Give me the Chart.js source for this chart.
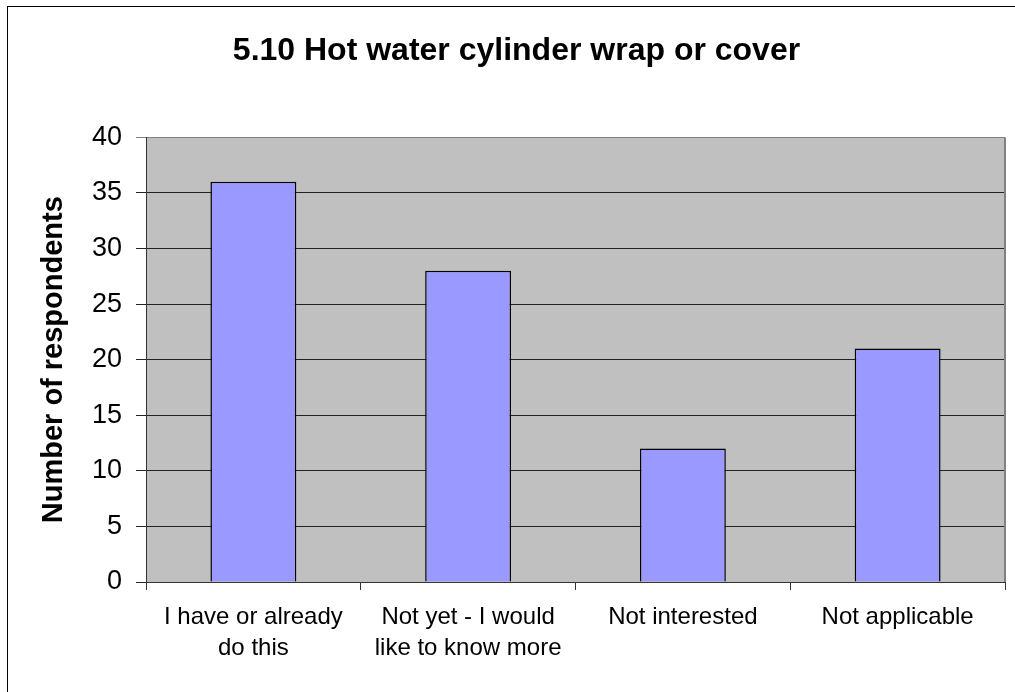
<!DOCTYPE html>
<html>
<head>
<meta charset="utf-8">
<script src="https://cdn.jsdelivr.net/npm/chart.js@4"></script>
<style>
  html, body { margin: 0; padding: 0; background: #fff; overflow: hidden; }
  #wrap { position: relative; width: 1015px; height: 692px; }
  #frame {
    position: absolute; left: 7px; top: 6px; width: 1200px; height: 900px;
    border-left: 1.5px solid #000; border-top: 1.5px solid #000;
  }
  canvas { position: absolute; left: 0; top: 0; }
</style>
</head>
<body>
<div id="wrap">
  <div id="frame"></div>
  <canvas id="chart" width="1015" height="692"></canvas>
</div>
<script>
const TITLE = "5.10 Hot water cylinder wrap or cover"
const Y_TITLE = "Number of respondents"
const CATEGORIES = [
  ["I have or already", "do this"],
  ["Not yet - I would", "like to know more"],
  "Not interested",
  "Not applicable",
]
const RESPONDENTS = [36, 28, 12, 21]
const Y_MIN = 0
const Y_MAX = 40
const Y_STEP = 5

const FONT = "Arial, 'Liberation Sans', sans-serif"

// grey plot background + right edge, drawn like the old Excel charts
const plotArea = {
  id: "plotArea",
  beforeDraw(chart) {
    const { ctx, chartArea: a } = chart
    ctx.save()
    ctx.fillStyle = "#c0c0c0"
    ctx.fillRect(a.left, a.top, a.right - a.left, a.bottom - a.top)
    ctx.restore()
  },
  afterDraw(chart) {
    const { ctx, chartArea: a } = chart
    ctx.save()
    ctx.strokeStyle = "#808080"
    ctx.lineWidth = 2
    ctx.beginPath()
    ctx.moveTo(a.right, a.top)
    ctx.lineTo(a.right, a.bottom)
    ctx.stroke()
    ctx.restore()
  },
}

new Chart(document.getElementById("chart"), {
  type: "bar",
  data: {
    labels: CATEGORIES,
    datasets: [{
      data: RESPONDENTS,
      backgroundColor: "#9999ff",
      borderColor: "#000",
      borderWidth: 1.5,
      categoryPercentage: 0.4,
      barPercentage: 1,
    }],
  },
  options: {
    responsive: false,
    animation: false,
    layout: { padding: { left: 28, right: 10, top: 0, bottom: 0 } },
    plugins: {
      legend: { display: false },
      tooltip: { enabled: false },
      title: {
        display: true,
        text: TITLE,
        color: "#000",
        font: { family: FONT, size: 32, weight: "bold", lineHeight: 1.2 },
        padding: { top: 32, bottom: 67 },
      },
    },
    scales: {
      x: {
        offset: true,
        afterFit: (s) => { s.height = 110 },
        grid: {
          offset: true,
          drawOnChartArea: false,
          drawTicks: true,
          tickLength: 8,
          color: "#333",
        },
        border: { display: true, color: "#333", width: 1 },
        ticks: {
          color: "#000",
          padding: 12,
          maxRotation: 0,
          autoSkip: false,
          font: { family: FONT, size: 24, lineHeight: 1.3 },
        },
      },
      y: {
        min: Y_MIN,
        max: Y_MAX,
        afterFit: (s) => { s.width = 118 },
        grid: {
          color: (c) => (c.tick && c.tick.value === Y_MAX ? "#808080" : "#222"),
          lineWidth: 1,
          drawTicks: true,
          tickLength: 10,
        },
        border: { display: true, color: "#333", width: 1 },
        ticks: {
          stepSize: Y_STEP,
          color: "#000",
          padding: 14,
          font: { family: FONT, size: 27 },
        },
        title: {
          display: true,
          text: Y_TITLE,
          color: "#000",
          font: { family: FONT, size: 29, weight: "bold", lineHeight: 1.2 },
          padding: { top: 9, bottom: 0 },
        },
      },
    },
  },
  plugins: [plotArea],
})
</script>
</body>
</html>
